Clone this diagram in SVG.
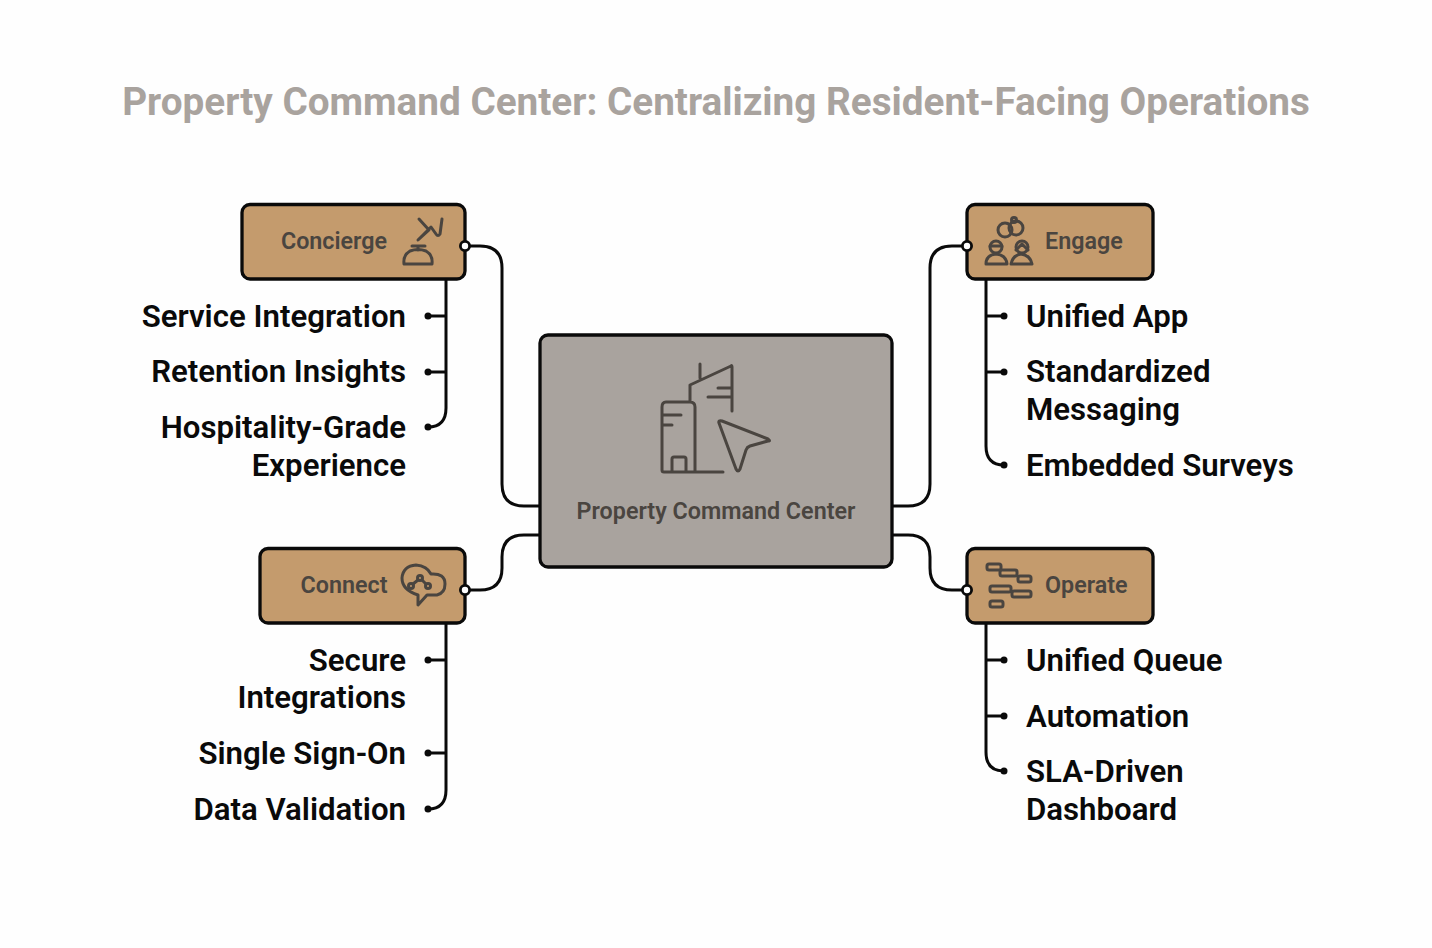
<svg xmlns="http://www.w3.org/2000/svg" width="1432" height="948" viewBox="0 0 1432 948">
<style>
text{font-family:Roboto,"Liberation Sans",sans-serif}
.title{font-size:38.7px;font-weight:700;fill:#a9a39e}
.item{font-size:31.2px;font-weight:600;fill:#0a0a0a}
.lab{font-size:23.3px;font-weight:600;fill:#4a4540}
.box{fill:#c49b6d;stroke:#0a0a0a;stroke-width:3.3}
.ctr{fill:#a9a39e;stroke:#0a0a0a;stroke-width:3.3}
.ic{fill:none;stroke:#4a4540;stroke-width:3;stroke-linecap:round;stroke-linejoin:round}
.ln{fill:none;stroke:#0a0a0a;stroke-width:3}
.port{fill:#fff;stroke:#0a0a0a;stroke-width:2.8}
.dot{fill:#0a0a0a}
.e{text-anchor:end}
</style>
<rect width="1432" height="948" fill="#fefefe"/>
<text class="title" x="716" y="115" text-anchor="middle">Property Command Center: Centralizing Resident-Facing Operations</text>
<g id="connectors">
<path class="ln" d="M465 246H480Q502 246 502 268V484Q502 506 524 506H540"/>
<path class="ln" d="M465 590H480Q502 590 502 568V557Q502 535 524 535H540"/>
<path class="ln" d="M967 246H952Q930 246 930 268V484Q930 506 908 506H892"/>
<path class="ln" d="M967 590H952Q930 590 930 568V557Q930 535 908 535H892"/>
<path class="ln" d="M446 279V408Q446 427 428 427M446 316H428M446 372H428"/>
<path class="ln" d="M446 623V790Q446 809 428 809M446 660H428M446 753H428"/>
<path class="ln" d="M986 279V446Q986 465 1004 465M986 316H1004M986 372H1004"/>
<path class="ln" d="M986 623V752Q986 771 1004 771M986 660H1004M986 716H1004"/>
<g class="dot"><circle cx="428" cy="316" r="3.5"/><circle cx="428" cy="372" r="3.5"/><circle cx="428" cy="427" r="3.5"/><circle cx="428" cy="660" r="3.5"/><circle cx="428" cy="753" r="3.5"/><circle cx="428" cy="809" r="3.5"/><circle cx="1004" cy="316" r="3.5"/><circle cx="1004" cy="372" r="3.5"/><circle cx="1004" cy="465" r="3.5"/><circle cx="1004" cy="660" r="3.5"/><circle cx="1004" cy="716" r="3.5"/><circle cx="1004" cy="771" r="3.5"/></g>
</g>
<g id="center">
<rect class="ctr" x="540" y="335" width="352" height="232" rx="8"/>
<path class="ic" d="M700 364V378M690 385L731 366Q732 365 732 367V411M690 385V402M718 388H732M708 397H732M666 402H690Q695 402 695 407V472M662 407Q662 402 666 402M662 407V470Q662 472 664 472H723M662 415H681M662 425H672M672 472V459Q672 457 674 457H684Q686 457 686 459V472"/>
<path class="ic" d="M719 423Q718 420 722 421L768 439Q771 441 768 441L750 446Q747 447 746 450L740 469Q738 473 736 469Z"/>
<text class="lab" x="716" y="519" text-anchor="middle">Property Command Center</text>
</g>
<g id="concierge">
<rect class="box" x="242" y="204.5" width="223" height="74.5" rx="8"/>
<text class="lab" x="334" y="249.2" text-anchor="middle">Concierge</text>
<path class="ic" d="M419 219L429 230L418 240L431 227L436 234Q438 237 440 234L442 219"/>
<path class="ic" d="M412 246H425M418 246V250M404 264H432Q433 255 426 251Q418 248 410 251Q403 255 404 264Z"/>
<circle class="port" cx="465" cy="246" r="4.6"/>
</g>
<g id="engage">
<rect class="box" x="967" y="204.5" width="186" height="74.5" rx="8"/>
<text class="lab" x="1045" y="249.2">Engage</text>
<circle class="ic" cx="1005" cy="230" r="7"/><circle class="ic" cx="1016" cy="228" r="7"/><circle class="ic" cx="1014" cy="220" r="2.5"/>
<circle class="ic" cx="996" cy="247" r="6"/><path class="ic" d="M990 246H1002M986 264Q986 255 996 254Q1006 255 1007 264Z"/>
<circle class="ic" cx="1022" cy="247" r="6"/><path class="ic" d="M1016 250L1022 244L1028 250M1011 264Q1013 255 1021 254Q1030 255 1032 264Z"/>
<circle class="port" cx="967" cy="246" r="4.6"/>
</g>
<g id="connect">
<rect class="box" x="260" y="548.5" width="205" height="74.5" rx="8"/>
<text class="lab" x="344" y="593.2" text-anchor="middle">Connect</text>
<path class="ic" d="M418 595Q402 590 402 578Q403 566 416 565Q427 566 431 574Q445 573 445 584Q445 593 437 595H427L418 605Z"/>
<circle class="ic" cx="411" cy="586" r="2.5"/><circle class="ic" cx="420" cy="578" r="2.5"/><circle class="ic" cx="428" cy="586" r="2.5"/><path class="ic" d="M413 584L418 580M422 580L426 584"/>
<circle class="port" cx="465" cy="590" r="4.6"/>
</g>
<g id="operate">
<rect class="box" x="967" y="548.5" width="186" height="74.5" rx="8"/>
<text class="lab" x="1045" y="593.2">Operate</text>
<g class="ic"><rect x="987" y="564" width="14" height="6" rx="2"/><rect x="1000" y="570" width="17" height="6" rx="2"/><rect x="1018" y="576" width="13" height="6" rx="2"/><rect x="990" y="586" width="21" height="6" rx="2"/><rect x="1012" y="591" width="19" height="6" rx="2"/><rect x="990" y="601" width="13" height="6" rx="2"/></g>
<circle class="port" cx="967" cy="590" r="4.6"/>
</g>
<g id="items">
<text class="item e" x="406" y="327">Service Integration</text>
<text class="item e" x="406" y="382.4">Retention Insights</text>
<text class="item e" x="406" y="438.4">Hospitality-Grade</text>
<text class="item e" x="406" y="475.6">Experience</text>
<text class="item e" x="406" y="670.6">Secure</text>
<text class="item e" x="406" y="707.6">Integrations</text>
<text class="item e" x="406" y="763.6">Single Sign-On</text>
<text class="item e" x="406" y="819.6">Data Validation</text>
<text class="item" x="1026" y="327">Unified App</text>
<text class="item" x="1026" y="382.4">Standardized</text>
<text class="item" x="1026" y="419.6">Messaging</text>
<text class="item" x="1026" y="475.6">Embedded Surveys</text>
<text class="item" x="1026" y="670.6">Unified Queue</text>
<text class="item" x="1026" y="726.6">Automation</text>
<text class="item" x="1026" y="782.2">SLA-Driven</text>
<text class="item" x="1026" y="819.6">Dashboard</text>
</g>
</svg>
